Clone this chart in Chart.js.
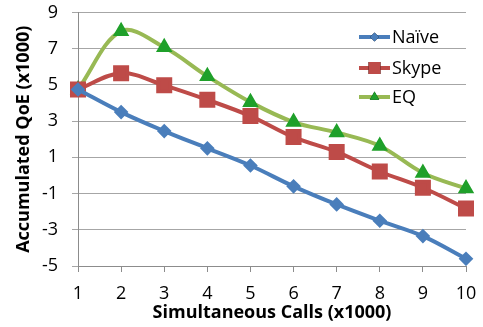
<!DOCTYPE html>
<html>
<head>
<meta charset="utf-8">
<script src="https://cdn.jsdelivr.net/npm/chart.js@4/dist/chart.umd.min.js"></script>
<style>
  html, body { margin: 0; padding: 0; background: #fff; }
  #wrap { width: 483px; height: 327px; }
</style>
</head>
<body>
<div id="wrap"><canvas id="chart-qoe"></canvas></div>
<script>
const calls = ['1', '2', '3', '4', '5', '6', '7', '8', '9', '10'];
const naive = [4.75, 3.5, 2.45, 1.5, 0.55, -0.6, -1.6, -2.5, -3.35, -4.6];
const skype = [4.75, 5.65, 4.98, 4.18, 3.28, 2.12, 1.3, 0.22, -0.68, -1.82];
const eq = [4.75, 7.97, 7.08, 5.48, 4.05, 2.95, 2.37, 1.63, 0.14, -0.72];
const yTicks = [-5, -3, -1, 1, 3, 5, 7, 9];

const BLUE = '#4a7ebb';
const RED = '#be4b48';
const GREEN = '#98b954';
const GREEN_MARK = '#1fa02a';

// legend drawn inside the plot, line + marker like the office chart
const insideLegend = {
    id: 'insideLegend',
    afterDraw(chart) {
        const ctx = chart.ctx;
        const items = chart.data.datasets;
        const x0 = 359, x1 = 390;
        const ys = [37, 68, 97];
        ctx.save();
        items.forEach((ds, i) => {
            const y = ys[i];
            ctx.strokeStyle = ds.borderColor;
            ctx.lineWidth = 4;
            ctx.beginPath();
            ctx.moveTo(x0, y);
            ctx.lineTo(x1, y);
            ctx.stroke();
            Chart.helpers.drawPoint(ctx, {
                pointStyle: ds.pointStyle,
                radius: ds.legendRadius,
                borderWidth: 0
            }, (x0 + x1) / 2, y);
            ctx.fillStyle = ds.pointBackgroundColor;
            ctx.fill();
            ctx.fillStyle = '#000';
            ctx.font = '18px "Open Sans"';
            ctx.textBaseline = 'middle';
            ctx.fillText(ds.label, 392, y + 1);
        });
        ctx.restore();
    }
};

const ctx = document.getElementById('chart-qoe');
const myChart = new Chart(ctx, {
    type: 'line',
    data: {
        labels: calls,
        datasets: [
            {
                label: 'Naïve',
                data: naive,
                borderColor: BLUE,
                backgroundColor: BLUE,
                pointBackgroundColor: BLUE,
                pointBorderColor: BLUE,
                pointStyle: 'rectRot',
                pointRadius: 4.5,
                legendRadius: 4.5,
                borderWidth: 4,
                tension: 0.35
            },
            {
                label: 'Skype',
                data: skype,
                borderColor: RED,
                backgroundColor: RED,
                pointBackgroundColor: RED,
                pointBorderColor: RED,
                pointStyle: 'rect',
                pointRadius: 8.5,
                legendRadius: 8.5,
                borderWidth: 4,
                tension: 0.35
            },
            {
                label: 'EQ',
                data: eq,
                borderColor: GREEN,
                backgroundColor: GREEN_MARK,
                pointBackgroundColor: GREEN_MARK,
                pointBorderColor: GREEN_MARK,
                pointStyle: 'triangle',
                pointRadius: 5.5,
                legendRadius: 5.5,
                borderWidth: 4,
                tension: 0.35
            }
        ]
    },
    options: {
        responsive: true,
        maintainAspectRatio: false,
        animation: false,
        layout: { padding: { top: 12, right: 17, left: 13, bottom: 3 } },
        plugins: {
            legend: { display: false },
            tooltip: { enabled: false }
        },
        scales: {
            x: {
                offset: false,
                afterFit(scale) {
                    scale.height = 58;
                    scale.paddingLeft = 0;
                    scale.paddingRight = 0;
                },
                grid: {
                    drawOnChartArea: false,
                    drawTicks: true,
                    tickLength: 6,
                    color: '#8c8c8c'
                },
                border: { color: '#8c8c8c', width: 1 },
                ticks: {
                    color: '#000',
                    font: { family: 'Open Sans', size: 18 },
                    padding: 11,
                    maxRotation: 0
                },
                title: {
                    display: true,
                    text: 'Simultaneous Calls (x1000)',
                    color: '#000',
                    font: { family: 'Open Sans', size: 18, weight: 'bold' },
                    padding: { top: 0, bottom: 0 }
                }
            },
            y: {
                min: -5,
                max: 9,
                afterBuildTicks(scale) {
                    scale.ticks = yTicks.map(v => ({ value: v }));
                },
                afterFit(scale) {
                    scale.width = 65;
                    scale.paddingTop = 0;
                    scale.paddingBottom = 0;
                },
                grid: {
                    color: '#a6a6a6',
                    tickLength: 6
                },
                border: { color: '#8c8c8c', width: 1 },
                ticks: {
                    color: '#000',
                    font: { family: 'Open Sans', size: 18 },
                    padding: 14
                },
                title: {
                    display: true,
                    text: 'Accumulated QoE (x1000)',
                    color: '#000',
                    font: { family: 'Open Sans', size: 18, weight: 'bold' },
                    padding: { top: 0, bottom: 4 }
                }
            }
        }
    },
    plugins: [insideLegend]
});
</script>
</body>
</html>
